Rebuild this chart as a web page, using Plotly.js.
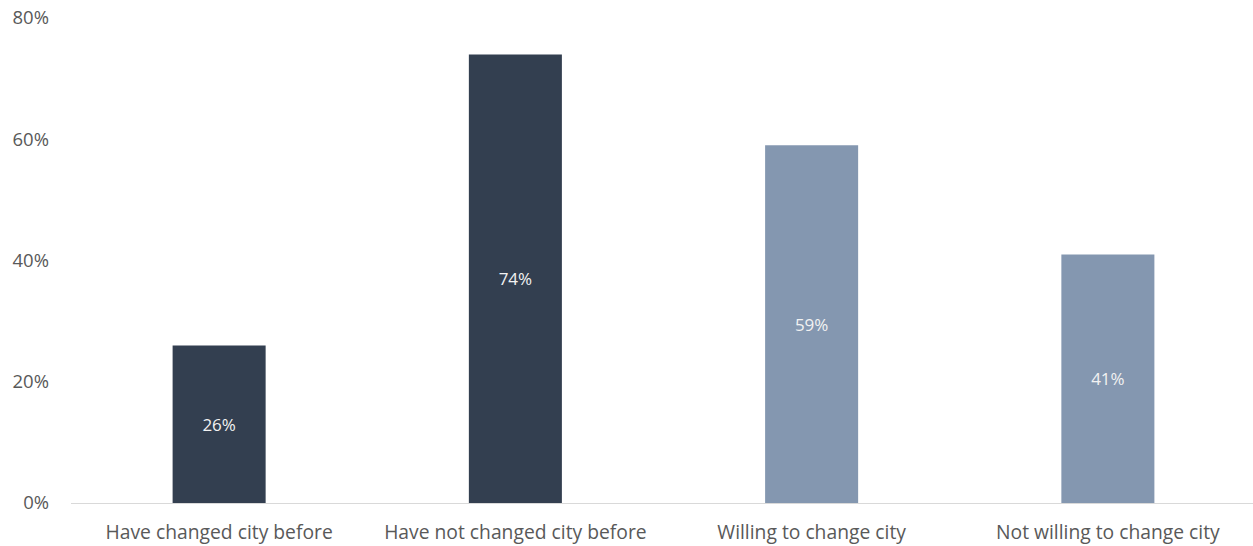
<!DOCTYPE html>
<html>
<head>
<meta charset="utf-8">
<script src="https://cdn.plot.ly/plotly-3.0.1.min.js"></script>
<style>html,body{margin:0;padding:0;background:#fff;overflow:hidden;}#chart{width:1256px;height:546px;}</style>
</head>
<body>
<div id="chart"></div>
<script>
const categories = ["Have changed city before", "Have not changed city before", "Willing to change city", "Not willing to change city"];
const values = [26, 74, 59, 41];
const labels = ["26%", "74%", "59%", "41%"];
const barColors = ["#333F50", "#333F50", "#8497B0", "#8497B0"];
const yTickVals = [0, 20, 40, 60, 80];
const yTickText = ["0%", "20%", "40%", "60%", "80%"];

const trace = {
  type: "bar",
  x: categories,
  y: values,
  text: labels,
  textposition: "inside",
  insidetextanchor: "middle",
  textangle: 0,
  textfont: {family: "'Open Sans', sans-serif", size: 17, color: "#F2F2F2"},
  marker: {color: barColors},
  hoverinfo: "skip"
};

const layout = {
  width: 1256, height: 546,
  margin: {l: 71, r: 0, t: 18, b: 43},
  paper_bgcolor: "#ffffff",
  plot_bgcolor: "#ffffff",
  bargap: 0.686,
  showlegend: false,
  font: {family: "'Open Sans', sans-serif", color: "#595959", size: 17},
  xaxis: {
    showgrid: false, zeroline: false, showline: true, linecolor: "#D9D9D9", linewidth: 1.3,
    ticks: "", ticklabelstandoff: 12,
    tickfont: {size: 19.3, color: "#595959"}
  },
  yaxis: {
    range: [0, 80], tickvals: yTickVals, ticktext: yTickText,
    showgrid: false, zeroline: false, showline: false,
    ticks: "", ticklabelstandoff: 21,
    tickfont: {size: 18.5, color: "#595959"}
  }
};

Plotly.newPlot("chart", [trace], layout, {displayModeBar: false, staticPlot: true});
</script>
</body>
</html>
